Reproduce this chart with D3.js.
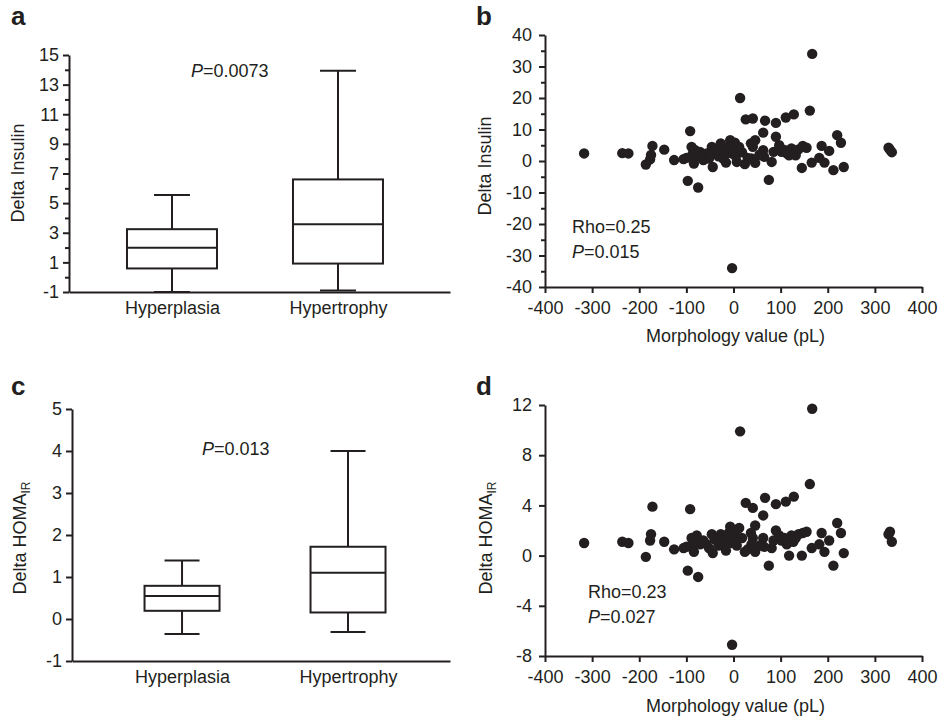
<!DOCTYPE html>
<html>
<head>
<meta charset="utf-8">
<script src="https://cdn.jsdelivr.net/npm/d3@7/dist/d3.min.js"></script>
<style>
body { margin: 0; background: #fff; }
svg text { font-family: "Liberation Sans", Arial, sans-serif; fill: #231f20; }
</style>
</head>
<body>
<svg id="chart" width="939" height="720"></svg>
<script>
//Groups for the box plots
const groups = ['Hyperplasia', 'Hypertrophy'];

//Box plot stats for delta insulin (whisker low, q1, median, q3, whisker high)
const insulinMin = [-1.0, -0.9];
const insulinQ1 = [0.59, 0.92];
const insulinMedian = [1.98, 3.58];
const insulinQ3 = [3.24, 6.6];
const insulinMax = [5.55, 13.94];

//Box plot stats for delta HOMA-IR
const homaMin = [-0.36, -0.31];
const homaQ1 = [0.195, 0.155];
const homaMedian = [0.545, 1.1];
const homaQ3 = [0.79, 1.72];
const homaMax = [1.39, 4.0];

//Scatter data, one entry per subject
const morphology = [-317, -236, -223, -186, -177, -175, -172, -147, -126, -106,
    -92, -97, -75, -89, -87, -84, -78, -71, -64, -57,
    -46, -44, -36, -27, -22, -16, -13, -7, -4, 3,
    7, 12, 14, 24, 26, 41, 37, 41, 38, 46,
    46, 63, 67, 63, 65, 75, 81, 85, 90, 90,
    97, 102, 111, 113, 123, 127, 128, 138, 147, 145,
    162, 166, 167, 182, 187, 193, 203, 212, 220, 228,
    234, 329, 332, 336, -3, -100, -82, -68, -52, -40,
    -32, -25, -18, -10, 0, 5, 18, 30, 55, 108,
    118, 132, 155];
const deltaInsulin = [2.4, 2.5, 2.4, -1.1, 0.5, 1.9, 4.8, 3.6, 0.3, 0.6,
    9.5, -6.3, -8.4, 4.5, 2.2, -0.8, 1.3, 2.9, 0.3, 2.4,
    4.5, -1.9, 2.4, 5.6, 0.8, -0.5, 3.4, 6.6, 2.4, 5.8,
    -0.3, 4.5, 20.0, -1.0, 13.2, 13.5, 5.6, 4.5, 0.8, -0.6,
    6.6, 9.0, 12.8, 3.4, 1.3, -6.0, -0.3, 2.9, 12.1, 7.7,
    5.0, 2.9, 13.8, 2.4, 4.0, 2.2, 14.8, 3.7, 4.8, -2.2,
    16.0, -0.5, 34.0, 1.0, 4.8, -0.5, 3.2, -2.9, 8.2, 5.8,
    -1.9, 4.2, 3.6, 2.8, -34.0, 1.0, 3.5, 1.5, 0.8, 3.8,
    1.5, 3.2, 2.0, 4.5, 3.0, 1.5, 2.8, 1.0, 2.0, 3.5,
    1.8, 1.8, 4.2];
const deltaHoma = [1.0, 1.1, 1.0, -0.1, 1.2, 1.7, 3.9, 1.1, 0.5, 0.6,
    3.7, -1.2, -1.7, 1.4, 0.9, 0.3, 1.6, 0.9, 1.2, 0.9,
    1.7, 0.2, 1.3, 1.7, 1.0, 0.4, 1.6, 2.3, 1.0, 1.7,
    0.8, 2.2, 9.9, 0.3, 4.2, 3.8, 1.8, 1.4, 0.9, 0.3,
    2.4, 3.2, 4.6, 1.4, 0.7, -0.8, 0.6, 1.2, 4.1, 2.0,
    1.6, 1.2, 4.3, 0.9, 1.6, 1.1, 4.7, 1.7, 1.8, 0.0,
    5.7, 0.6, 11.7, 0.9, 1.8, 0.3, 1.2, -0.8, 2.6, 1.8,
    0.2, 1.7, 1.9, 1.1, -7.1, 0.7, 1.1, 1.0, 0.6, 1.3,
    0.8, 1.5, 1.2, 1.8, 1.3, 1.1, 1.4, 0.5, 0.8, 1.4,
    0.0, 1.4, 1.9];

//Tick values
const insulinTicks = [-1, 1, 3, 5, 7, 9, 11, 13, 15];
const insulinMinorTicks = [0, 2, 4, 6, 8, 10, 12, 14];
const homaTicks = [-1, 0, 1, 2, 3, 4, 5];
const morphTicks = [-400, -300, -200, -100, 0, 100, 200, 300, 400];
const scatterInsulinTicks = [-40, -30, -20, -10, 0, 10, 20, 30, 40];
const scatterInsulinMinor = [-35, -25, -15, -5, 5, 15, 25, 35];
const scatterHomaTicks = [-8, -4, 0, 4, 8, 12];

const ink = '#231f20';
const svg = d3.select('#chart');
//Plain hyphen for negatives, like the original figure
const plain = function(d) { return String(d); };

function styleAxis(g) {
    g.selectAll('path, line').attr('stroke', ink).attr('stroke-width', 2);
    g.selectAll('text').attr('font-size', 18).attr('fill', ink);
}

function addYLabel(x, y, main, sub) {
    const t = svg.append('text')
        .attr('transform', 'translate(' + x + ',' + y + ') rotate(-90)')
        .attr('text-anchor', 'middle')
        .attr('font-size', 18);
    t.append('tspan').text(main);
    if(sub) {
        t.append('tspan').attr('font-size', 12).attr('dy', 4).text(sub);
    }
}

function addStat(x, y, parts) {
    const t = svg.append('text').attr('x', x).attr('y', y).attr('font-size', 18);
    parts.forEach(function(p) {
        t.append('tspan').attr('font-style', p.italic ? 'italic' : 'normal').text(p.text);
    });
}

function panelLetter(x, y, letter) {
    svg.append('text').attr('x', x).attr('y', y)
        .attr('font-size', 26).attr('font-weight', 'bold')
        .text(letter);
}

//Draws one box plot panel
function boxPanel(cfg) {
    const y = d3.scaleLinear().domain(cfg.domain).range([cfg.bottom, cfg.top]);
    const x = d3.scalePoint().domain(groups).range([cfg.left, cfg.right])
        .padding(cfg.padding).align(cfg.align);

    const yAxis = svg.append('g')
        .attr('transform', 'translate(' + cfg.left + ',0)')
        .call(d3.axisLeft(y).tickValues(cfg.ticks).tickSize(6).tickSizeOuter(0).tickPadding(cfg.tickPad).tickFormat(plain));
    styleAxis(yAxis);
    if(cfg.minor) {
        const minor = svg.append('g')
            .attr('transform', 'translate(' + cfg.left + ',0)')
            .call(d3.axisLeft(y).tickValues(cfg.minor).tickSize(4).tickFormat(''));
        minor.select('.domain').remove();
        styleAxis(minor);
    }
    const xAxis = svg.append('g')
        .attr('transform', 'translate(0,' + cfg.bottom + ')')
        .call(d3.axisBottom(x).tickSize(0).tickSizeOuter(0).tickPadding(cfg.labelPad));
    styleAxis(xAxis);

    const boxes = svg.append('g').selectAll('g')
        .data(groups)
        .enter()
        .append('g');
    boxes.each(function(d, i) {
        const g = d3.select(this);
        const cx = x(d);
        //whisker stem
        g.append('line')
            .attr('x1', cx).attr('x2', cx)
            .attr('y1', y(cfg.min[i])).attr('y2', y(cfg.max[i]));
        //caps
        [cfg.min[i], cfg.max[i]].forEach(function(v) {
            g.append('line')
                .attr('x1', cx - cfg.capWidth / 2).attr('x2', cx + cfg.capWidth / 2)
                .attr('y1', y(v)).attr('y2', y(v));
        });
        g.append('rect')
            .attr('x', cx - cfg.boxWidth / 2)
            .attr('y', y(cfg.q3[i]))
            .attr('width', cfg.boxWidth)
            .attr('height', y(cfg.q1[i]) - y(cfg.q3[i]))
            .attr('fill', '#fff');
        g.append('line')
            .attr('x1', cx - cfg.boxWidth / 2).attr('x2', cx + cfg.boxWidth / 2)
            .attr('y1', y(cfg.median[i])).attr('y2', y(cfg.median[i]));
    });
    boxes.selectAll('line, rect').attr('stroke', ink).attr('stroke-width', 2);
}

//Draws one scatter panel
function scatterPanel(cfg) {
    const x = d3.scaleLinear().domain([-400, 400]).range([cfg.left, cfg.right]);
    const y = d3.scaleLinear().domain(cfg.domain).range([cfg.bottom, cfg.top]);

    const yAxis = svg.append('g')
        .attr('transform', 'translate(' + cfg.left + ',0)')
        .call(d3.axisLeft(y).tickValues(cfg.ticks).tickSize(6).tickSizeOuter(0).tickPadding(7).tickFormat(plain));
    styleAxis(yAxis);
    if(cfg.minor) {
        const minor = svg.append('g')
            .attr('transform', 'translate(' + cfg.left + ',0)')
            .call(d3.axisLeft(y).tickValues(cfg.minor).tickSize(4).tickFormat(''));
        minor.select('.domain').remove();
        styleAxis(minor);
    }
    const xAxis = svg.append('g')
        .attr('transform', 'translate(0,' + cfg.bottom + ')')
        .call(d3.axisBottom(x).tickValues(morphTicks).tickSize(6).tickSizeOuter(0).tickPadding(8).tickFormat(plain));
    styleAxis(xAxis);

    svg.append('g').selectAll('circle')
        .data(morphology)
        .enter()
        .append('circle')
        .attr('cx', function(d) { return x(d); })
        .attr('cy', function(d, i) { return y(cfg.values[i]); })
        .attr('r', 5.2)
        .attr('fill', ink);

    svg.append('text')
        .attr('x', (cfg.left + cfg.right) / 2 + 2)
        .attr('y', cfg.titleY)
        .attr('text-anchor', 'middle')
        .attr('font-size', 18)
        .text('Morphology value (pL)');
}

//Panel a
panelLetter(11, 25, 'a');
boxPanel({
    left: 69, right: 450, top: 55, bottom: 292,
    domain: [-1, 15], ticks: insulinTicks, minor: insulinMinorTicks,
    padding: 0.6476, align: 0.479, tickPad: 4, labelPad: 9,
    min: insulinMin, q1: insulinQ1, median: insulinMedian, q3: insulinQ3, max: insulinMax,
    boxWidth: 90, capWidth: 36
});
addYLabel(24, 173, 'Delta Insulin');
addStat(191, 77, [{ text: 'P', italic: true }, { text: '=0.0073' }]);

//Panel b
panelLetter(476, 25, 'b');
scatterPanel({
    left: 545, right: 922, top: 35, bottom: 287,
    domain: [-40, 40], ticks: scatterInsulinTicks, minor: scatterInsulinMinor,
    values: deltaInsulin, titleY: 342
});
addYLabel(491, 166, 'Delta Insulin');
addStat(572, 233, [{ text: 'Rho=0.25' }]);
addStat(572, 258, [{ text: 'P', italic: true }, { text: '=0.015' }]);

//Panel c
panelLetter(11, 395, 'c');
boxPanel({
    left: 72, right: 450, top: 409, bottom: 661,
    domain: [-1, 5], ticks: homaTicks, minor: null,
    padding: 0.6386, align: 0.519, tickPad: 4, labelPad: 9,
    min: homaMin, q1: homaQ1, median: homaMedian, q3: homaQ3, max: homaMax,
    boxWidth: 75, capWidth: 35
});
addYLabel(26, 538, 'Delta HOMA', 'IR');
addStat(202, 455, [{ text: 'P', italic: true }, { text: '=0.013' }]);

//Panel d
panelLetter(476, 395, 'd');
scatterPanel({
    left: 545, right: 922, top: 405, bottom: 656,
    domain: [-8, 12], ticks: scatterHomaTicks, minor: null,
    values: deltaHoma, titleY: 712
});
addYLabel(492, 538, 'Delta HOMA', 'IR');
addStat(588, 598, [{ text: 'Rho=0.23' }]);
addStat(588, 623, [{ text: 'P', italic: true }, { text: '=0.027' }]);
</script>
</body>
</html>
